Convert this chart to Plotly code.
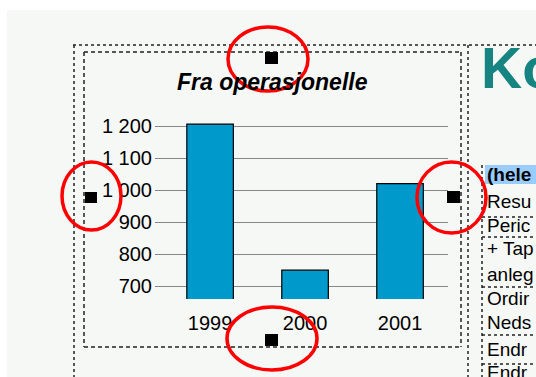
import plotly.graph_objects as go

# Chart data
years = ["1999", "2000", "2001"]
values = [1206, 750, 1020]
tick_values = [700, 800, 900, 1000, 1100, 1200]
tick_labels = ["700", "800", "900", "1 000", "1 100", "1 200"]
title_text = "Fra operasjonelle"
side_heading = "Ko"
side_rows = ["(hele", "Resu", "Peric", "+ Tap", "anleg", "Ordir", "Neds", "Endr", "Endr"]

W, H = 536, 377
FONT = "Liberation Sans, Arial, sans-serif"


def px(x):
    return x / W


def py(y):
    return 1 - y / H


fig = go.Figure(
    go.Bar(
        x=years,
        y=values,
        width=0.49,
        marker=dict(color="#0099cc", line=dict(color="#000000", width=1.2)),
    )
)

shapes = []


def rect(x0, y0, x1, y1, **kw):
    shapes.append(dict(type="rect", xref="paper", yref="paper",
                       x0=px(x0), x1=px(x1), y0=py(y1), y1=py(y0), **kw))


def line(x0, y0, x1, y1, dash="dot", color="#222222", width=1.5):
    shapes.append(dict(type="line", xref="paper", yref="paper",
                       x0=px(x0), x1=px(x1), y0=py(y0), y1=py(y1),
                       line=dict(color=color, width=width, dash=dash)))


def ring(x0, y0, x1, y1):
    shapes.append(dict(type="circle", xref="paper", yref="paper",
                       x0=px(x0), x1=px(x1), y0=py(y1), y1=py(y0),
                       line=dict(color="#ff0000", width=3.5), layer="above"))


# slide background
rect(7, 10, W, H, fillcolor="#f6f8f6", line=dict(width=0), layer="below")

# outer dotted placeholder frame
line(73, 45, W, 45)
line(74, 45, 74, H)
line(468, 45, 468, H)

# dashed chart frame
for (a, b, c, d) in [(84, 52, 461, 52), (84, 347, 461, 347), (84, 52, 84, 347), (461, 52, 461, 347)]:
    line(a, b, c, d, dash="4px,3px", color="#222222", width=1.5)

# table on the right
rect(485, 165, W, 184, fillcolor="#99ccff", line=dict(width=0), layer="below")
line(482, 165, 482, H)
for yy in [217, 237, 287, 335, 364]:
    line(482, yy, W, yy)

# selection handles
for (a, b, c, d) in [(265, 52, 278, 64), (85, 192, 97, 203), (447, 191, 460, 203), (265, 334, 278, 346)]:
    rect(a, b, c, d, fillcolor="#000000", line=dict(width=0), layer="above")

# red highlight rings
ring(228, 27, 308, 91)
ring(62, 162, 121, 230)
ring(417, 162, 486, 233)
ring(227, 307, 317, 370)

annotations = [
    dict(text="<b><i>" + title_text + "</i></b>", x=px(272), y=py(82), xref="paper", yref="paper",
         showarrow=False, xanchor="center", yanchor="middle",
         font=dict(family=FONT, size=23, color="#000000")),
    dict(text="<b>" + side_heading + "</b>", x=px(479), y=py(68), xref="paper", yref="paper",
         showarrow=False, xanchor="left", yanchor="middle",
         font=dict(family=FONT, size=57, color="#168480")),
]
row_y = [174, 201, 225, 249, 274, 298, 322, 349, 372]
for i, (t, yy) in enumerate(zip(side_rows, row_y)):
    annotations.append(dict(
        text=("<b>" + t + "</b>") if i == 0 else t,
        x=px(485), y=py(yy), xref="paper", yref="paper",
        showarrow=False, xanchor="left", yanchor="middle",
        font=dict(family=FONT, size=19, color="#000000")))

fig.update_layout(
    width=W, height=H,
    margin=dict(l=0, r=0, t=0, b=0),
    paper_bgcolor="#ffffff",
    plot_bgcolor="rgba(0,0,0,0)",
    showlegend=False,
    shapes=shapes,
    annotations=annotations,
    bargap=0.5,
    xaxis=dict(
        domain=[px(155), px(448)],
        range=[-0.58, 2.505],
        showgrid=False, zeroline=False, showline=False,
        ticks="", ticklabelstandoff=10,
        tickfont=dict(family=FONT, size=20, color="#000000"),
    ),
    yaxis=dict(
        domain=[py(299), py(110)],
        range=[660, 1250],
        tickvals=tick_values, ticktext=tick_labels,
        showgrid=True, gridcolor="#888888", gridwidth=1.3,
        zeroline=False, showline=False, ticks="",
        ticklabelstandoff=2,
        tickfont=dict(family=FONT, size=20, color="#000000"),
    ),
)

fig.write_html("out.html")
